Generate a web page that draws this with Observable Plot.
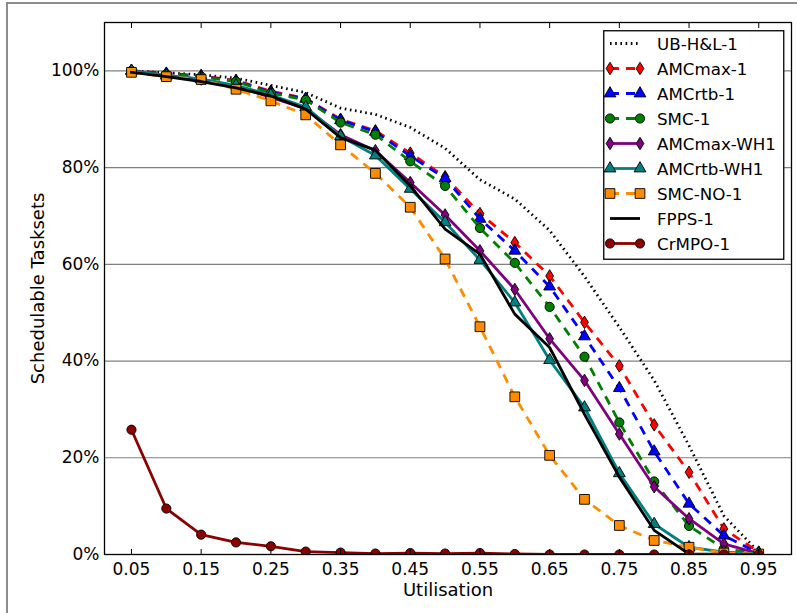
<!DOCTYPE html>
<html><head><meta charset="utf-8">
<script src="https://cdn.jsdelivr.net/npm/d3@7"></script>
<script src="https://cdn.jsdelivr.net/npm/@observablehq/plot@0.6"></script>
<style>
body{margin:0;background:#fff;}
#wrap{position:relative;width:797px;height:613px;overflow:hidden;font-family:"DejaVu Sans";}
#border{position:absolute;left:6px;top:2px;width:900px;height:900px;border-left:2px solid #8c8c8c;border-top:2px solid #8c8c8c;}
#legend{position:absolute;left:603px;top:30px;}
#chart{position:absolute;left:0;top:0;}
</style></head><body>
<div id="wrap"><div id="border"></div><div id="chart"></div><div id="legend"></div></div>
<script>
// ---- data ----
const utilisation = [0.05,0.10,0.15,0.20,0.25,0.30,0.35,0.40,0.45,0.50,0.55,0.60,0.65,0.70,0.75,0.80,0.85,0.90,0.95];
const ubHL1      = [100,99.6,99.2,98.5,97.0,95.5,92.3,91.0,88.3,84.0,77.5,73.5,67.0,57.5,47.0,36.0,22.5,8.0,0.5];
const amcMax1    = [100,99.5,99.0,98.0,95.8,94.3,90.0,87.6,83.0,78.1,70.5,64.5,57.6,48.0,39.0,26.8,17.0,5.3,0.5];
const amcRtb1    = [100,99.4,98.9,97.9,95.6,94.2,89.8,87.4,82.4,77.8,69.4,62.8,55.4,45.1,34.4,21.3,10.5,3.9,0.3];
const smc1       = [100,99.3,98.8,97.8,95.4,94.0,89.3,86.8,81.3,76.2,67.5,60.3,51.2,40.9,27.3,15.1,5.9,1.2,0.2];
const amcMaxWH1  = [100,99.0,98.3,96.8,94.5,92.2,86.8,83.5,76.9,70.2,62.8,54.8,44.6,36.0,24.9,14.0,7.4,2.2,0.2];
const amcRtbWH1  = [100,99.0,98.3,97.0,95.0,92.5,86.5,82.5,75.6,68.7,60.9,52.1,40.2,30.4,16.8,6.3,1.5,0.5,0.2];
const smcNO1     = [99.7,98.8,98.2,96.2,93.8,90.9,84.7,78.8,71.8,61.1,47.1,32.6,20.5,11.4,6.0,2.9,1.5,0.3,0.1];
const fpps1      = [99.7,98.8,97.8,96.5,94.8,92.1,86.2,83.6,76.2,67.3,62.1,49.7,42.8,29.0,16.0,5.0,0.1,0,0];
const crmpo1     = [25.8,9.5,4.1,2.5,1.7,0.6,0.4,0.2,0.3,0.2,0.3,0.1,0,0,0,0,0,0,0];

const seriesNames = ["UB-H&L-1","AMCmax-1","AMCrtb-1","SMC-1","AMCmax-WH1","AMCrtb-WH1","SMC-NO-1","FPPS-1","CrMPO-1"];
const seriesValues = [ubHL1, amcMax1, amcRtb1, smc1, amcMaxWH1, amcRtbWH1, smcNO1, fpps1, crmpo1];

const yTicks = [0,20,40,60,80,100];
const yTickLabels = ["0%","20%","40%","60%","80%","100%"];
const xTicks = [0.05,0.15,0.25,0.35,0.45,0.55,0.65,0.75,0.85,0.95];
const xTickLabels = ["0.05","0.15","0.25","0.35","0.45","0.55","0.65","0.75","0.85","0.95"];
const xLabel = "Utilisation";
const yLabel = "Schedulable Tasksets";

// ---- styles ----
const thinDiamond = {draw(ctx, size){const r=Math.sqrt(size/Math.PI);const h=r*1.25,w=r*0.78;ctx.moveTo(0,-h);ctx.lineTo(w,0);ctx.lineTo(0,h);ctx.lineTo(-w,0);ctx.closePath();}};
const DASH = "9,7", DOT = "1.6,3.6";
const styles = [
  {color:"#000000", dash:DOT,  symbol:null,          r:0},
  {color:"#ff0000", dash:DASH, symbol:thinDiamond,    r:5},
  {color:"#0000ff", dash:DASH, symbol:"triangle",    r:4.4},
  {color:"#008000", dash:DASH, symbol:"circle",      r:4.6},
  {color:"#800080", dash:null, symbol:thinDiamond,    r:5},
  {color:"#008080", dash:null, symbol:"triangle",    r:4.4},
  {color:"#ff8c00", dash:DASH, symbol:"square",      r:5.5},
  {color:"#000000", dash:null, symbol:null,          r:0},
  {color:"#8b0000", dash:null, symbol:"circle",      r:4.6}
];
const LW = 2.8;

const yFmt = d => yTickLabels[yTicks.indexOf(d)];
const xFmt = d => xTickLabels[xTicks.findIndex(t => Math.abs(t-d) < 1e-9)];

const marks = [
  Plot.ruleY(yTicks.filter(d => d > 0), {stroke:"#808080", strokeWidth:1.2})
];
seriesNames.forEach((name, i) => {
  const rows = utilisation.map((u, j) => ({u, v: seriesValues[i][j], name}));
  const s = styles[i];
  marks.push(Plot.line(rows, {x:"u", y:"v", stroke:s.color, strokeWidth:LW, strokeDasharray:s.dash || undefined, strokeLinejoin:"round", strokeLinecap: s.dash ? "butt" : "square", clip:true}));
  if (s.symbol) marks.push(Plot.dot(rows, {x:"u", y:"v", symbol:s.symbol, r:s.r, fill:s.color, stroke:"#000", strokeWidth:0.9, clip:true}));
});
marks.push(
  Plot.frame({stroke:"#000", strokeWidth:1.3}),
  Plot.axisY(yTicks, {tickSize:0, tickPadding:5, tickFormat:yFmt, label:null}),
  Plot.axisX(xTicks, {anchor:"bottom", tickSize:0, tickPadding:8, tickFormat:xFmt, label:null}),
  Plot.axisX(xTicks, {anchor:"bottom", tickSize:5, dy:-5, tickFormat:() => "", label:null, stroke:"#000"}),
  Plot.axisX(xTicks, {anchor:"top", tickSize:5, dy:5, tickFormat:() => "", label:null, stroke:"#000"}),
  Plot.text([xLabel], {text:d => d, frameAnchor:"bottom", dy:41, fontSize:18}),
  Plot.text([yLabel], {text:d => d, frameAnchor:"left", textAnchor:"middle", dx:-66, rotate:-90, fontSize:18})
);

const chart = Plot.plot({
  width:797, height:613,
  marginLeft:104, marginRight:6, marginTop:22, marginBottom:59,
  style:"font-family:'DejaVu Sans';font-size:17px;background:transparent;overflow:visible;color:#000;",
  x:{domain:[0.0113,0.997], axis:null},
  y:{domain:[0,110], axis:null},
  marks
});
document.getElementById("chart").appendChild(chart);

// ---- legend ----
const lg = d3.select("#legend").append("svg").attr("width",182).attr("height",231)
  .style("font-family","DejaVu Sans").style("font-size","16.7px");
lg.append("rect").attr("x",0.75).attr("y",0.75).attr("width",180).attr("height",228.5)
  .attr("fill","#fff").attr("stroke","#000").attr("stroke-width",1.3);
const symType = s => s === "triangle" ? d3.symbolTriangle : s === "square" ? d3.symbolSquare : s === "circle" ? d3.symbolCircle : s;
seriesNames.forEach((name, i) => {
  const s = styles[i];
  const y = 13.5 + 25 * i;
  const g = lg.append("g").attr("transform", `translate(0,${y})`);
  g.append("line").attr("x1",7).attr("x2",37).attr("y1",0).attr("y2",0)
    .attr("stroke",s.color).attr("stroke-width",LW)
    .attr("stroke-dasharray", s.dash || null);
  if (s.symbol) {
    [7,37].forEach(x => g.append("path").attr("transform",`translate(${x},0)`)
      .attr("d", d3.symbol(symType(s.symbol), Math.PI*s.r*s.r)())
      .attr("fill",s.color).attr("stroke","#000").attr("stroke-width",0.9));
  }
  g.append("text").attr("x",54).attr("y",0).attr("dy","0.36em").text(name);
});
</script>
</body></html>
